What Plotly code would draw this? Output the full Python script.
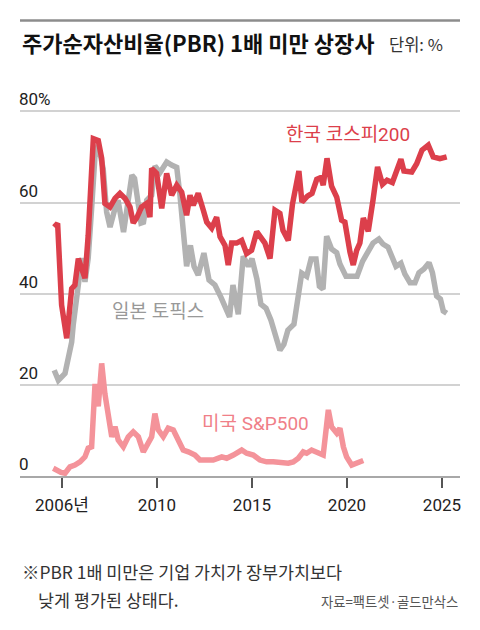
import plotly.graph_objects as go

# --------------------------
# DATA (PBR < 1 share of listed companies, %)
# --------------------------

korea_x = [
    2004.59, 2004.77, 2004.98, 2005.25, 2005.51, 2005.68, 2005.86, 2006.04,
    2006.21, 2006.38, 2006.47, 2006.65, 2006.91, 2007.09, 2007.26, 2007.53,
    2007.79, 2008.05, 2008.32, 2008.58, 2008.75, 2008.93, 2009.19, 2009.46,
    2009.63, 2009.72, 2009.98, 2010.25, 2010.51, 2010.77, 2011.04, 2011.30,
    2011.56, 2011.74, 2011.91, 2012.17, 2012.44, 2012.62, 2012.88, 2013.14,
    2013.32, 2013.58, 2013.75, 2013.93, 2014.19, 2014.46, 2014.72, 2014.98,
    2015.25, 2015.51, 2015.68, 2015.95, 2016.21, 2016.47, 2016.63, 2016.91,
    2017.13, 2017.47, 2017.63, 2017.92, 2018.16, 2018.41, 2018.63, 2018.75,
    2018.95, 2019.19, 2019.46, 2019.72, 2019.89, 2020.16, 2020.33, 2020.51,
    2020.68, 2020.86, 2021.12, 2021.37, 2021.61, 2021.87, 2022.11, 2022.39,
    2022.84, 2023.00, 2023.41, 2023.67, 2023.95, 2024.28, 2024.54, 2024.89,
    2025.25,
]
korea_y = [
    54.6, 55.4, 37.5, 30.2, 41.1, 41.9, 47.7, 45.6,
    43.4, 52.8, 58.7, 74.0, 73.6, 69.7, 59.8, 59.0,
    60.9, 62.0, 60.9, 59.0, 55.5, 56.6, 59.0, 59.8,
    56.8, 67.5, 66.4, 58.7, 66.4, 61.6, 63.8, 62.3,
    57.2, 61.6, 59.4, 62.0, 58.3, 55.7, 54.4, 56.8,
    52.5, 50.6, 46.3, 51.1, 51.1, 51.7, 48.8, 49.5,
    53.6, 52.1, 51.1, 47.7, 58.3, 57.6, 53.9, 51.7,
    59.6, 66.9, 60.1, 61.4, 62.0, 65.1, 65.5, 63.8,
    69.7, 63.6, 61.2, 56.1, 55.7, 49.1, 46.3, 49.5,
    51.1, 56.6, 53.7, 60.5, 67.8, 64.0, 64.9, 64.4,
    69.5, 66.9, 66.7, 68.5, 71.5, 72.6, 70.0, 69.6,
    70.0,
]

japan_x = [
    2004.59, 2004.81, 2005.16, 2005.33, 2005.51, 2005.59, 2005.77, 2005.95,
    2006.04, 2006.21, 2006.38, 2006.56, 2006.74, 2006.91, 2007.17, 2007.35,
    2007.53, 2007.79, 2007.95, 2008.24, 2008.42, 2008.68, 2008.82, 2008.95,
    2009.16, 2009.29, 2009.46, 2009.72, 2009.89, 2010.16, 2010.51, 2010.77,
    2011.04, 2011.21, 2011.38, 2011.56, 2011.76, 2011.95, 2012.17, 2012.47,
    2012.74, 2013.05, 2013.37, 2013.67, 2013.82, 2014.00, 2014.28, 2014.54,
    2014.81, 2015.00, 2015.26, 2015.47, 2015.74, 2016.00, 2016.30, 2016.47,
    2016.68, 2016.89, 2017.21, 2017.44, 2017.62, 2017.88, 2018.11, 2018.37,
    2018.55, 2018.74, 2018.93, 2019.19, 2019.46, 2019.63, 2019.95, 2020.21,
    2020.53, 2020.82, 2021.11, 2021.37, 2021.68, 2021.89, 2022.16, 2022.37,
    2022.58, 2022.84, 2023.05, 2023.32, 2023.58, 2023.79, 2024.05, 2024.32,
    2024.50, 2024.72, 2024.92, 2025.07, 2025.25,
]
japan_y = [
    23.2, 21.0, 22.5, 25.9, 29.4, 33.1, 39.7, 46.3,
    47.8, 42.6, 47.8, 58.7, 70.4, 72.6, 67.4, 57.9,
    54.6, 58.7, 60.5, 53.5, 59.4, 66.0, 65.3, 60.9,
    55.5, 55.7, 60.5, 61.6, 68.0, 66.6, 68.9, 68.2,
    67.7, 61.6, 53.0, 46.0, 50.6, 46.0, 44.1, 48.9,
    43.0, 41.9, 39.2, 36.4, 34.9, 41.9, 35.5, 48.2,
    46.0, 47.7, 43.2, 37.7, 36.8, 34.2, 30.5, 27.6,
    28.9, 32.0, 33.3, 39.5, 44.5, 43.8, 47.6, 47.6,
    41.6, 41.0, 52.6, 49.8, 49.0, 46.5, 43.8, 43.8,
    43.8, 47.1, 49.3, 51.1, 52.0, 50.9, 50.2, 48.2,
    46.0, 46.7, 44.3, 42.4, 42.4, 44.6, 45.4, 46.8,
    44.6, 39.5, 38.8, 36.2, 35.7,
]

us_x = [
    2004.54, 2004.74, 2004.95, 2005.16, 2005.42, 2005.68, 2005.95, 2006.21,
    2006.38, 2006.56, 2006.74, 2006.91, 2007.09, 2007.26, 2007.44, 2007.62,
    2007.79, 2007.96, 2008.23, 2008.49, 2008.75, 2009.02, 2009.28, 2009.54,
    2009.72, 2009.89, 2010.07, 2010.33, 2010.59, 2010.86, 2011.12, 2011.38,
    2011.65, 2012.00, 2012.26, 2012.62, 2012.96, 2013.41, 2013.67, 2014.02,
    2014.46, 2014.72, 2015.07, 2015.42, 2015.77, 2016.12, 2016.56, 2016.91,
    2017.17, 2017.44, 2017.70, 2017.88, 2018.14, 2018.41, 2018.75, 2019.02,
    2019.19, 2019.46, 2019.63, 2019.81, 2019.98, 2020.25, 2020.51, 2020.86,
]
us_y = [
    1.7, 1.1, 0.8, 0.6, 2.0, 2.4, 3.1, 4.2,
    6.1, 6.4, 20.2, 15.3, 24.7, 18.0, 13.0, 8.6,
    10.8, 7.9, 6.4, 8.6, 9.7, 8.6, 5.3, 7.2,
    8.6, 13.7, 10.1, 8.6, 10.5, 10.1, 7.9, 5.7,
    5.3, 4.6, 3.5, 3.5, 3.5, 4.2, 3.9, 4.6,
    5.7, 5.0, 4.6, 3.5, 3.1, 3.1, 2.8, 2.8,
    3.1, 3.9, 5.3, 5.0, 5.7, 5.3, 4.6, 14.5,
    10.8, 9.4, 10.5, 6.4, 4.2, 2.4, 2.8, 3.4,
]

y_ticks = [0, 20, 40, 60, 80]
y_tick_labels = ["0", "20", "40", "60", "80%"]
x_ticks = [2005, 2010, 2015, 2020, 2025]
x_tick_labels = ["2006년", "2010", "2015", "2020", "2025"]

RED = "#dc3f4b"
GRAY = "#b2b2b2"
PINK = "#f4939a"

NUM = "Roboto, Noto Sans CJK KR, sans-serif"
KR = "Noto Sans CJK KR, sans-serif"

fig = go.Figure()

# pink and gray first so the red line sits on top
fig.add_trace(go.Scatter(x=us_x, y=us_y, mode="lines",
                         line=dict(color=PINK, width=5.5)))
fig.add_trace(go.Scatter(x=japan_x, y=japan_y, mode="lines",
                         line=dict(color=GRAY, width=5.5)))
fig.add_trace(go.Scatter(x=korea_x, y=korea_y, mode="lines",
                         line=dict(color=RED, width=5.5)))

# page body has an 8px margin, so the figure is 8px smaller each way
fig.update_layout(
    width=472,
    height=622,
    showlegend=False,
    paper_bgcolor="white",
    plot_bgcolor="white",
    margin=dict(l=12, r=20, t=75.6, b=154, pad=0),
    font=dict(family=NUM, size=17, color="#222"),
)

fig.update_xaxes(
    range=[2002.79, 2025.95],
    tickvals=x_ticks,
    ticktext=x_tick_labels,
    showgrid=False,
    zeroline=False,
    showline=True,
    linecolor="#a8a8a8",
    linewidth=1.5,
    ticks="outside",
    ticklen=10,
    tickwidth=1.5,
    tickcolor="#555",
    ticklabelstandoff=3,
    tickfont=dict(family=NUM, size=17, color="#222"),
)

fig.update_yaxes(
    range=[0, 86],
    tickvals=y_ticks,
    ticktext=y_tick_labels,
    showgrid=True,
    gridcolor="#d2d2d2",
    gridwidth=1.5,
    zeroline=False,
    ticks="",
    ticklabelposition="inside top",
    ticklabelstandoff=-4,
    tickfont=dict(family=NUM, size=17, color="#222"),
)

# --------------------------
# TEXT
# --------------------------

fig.add_shape(type="line", xref="paper", yref="paper",
              x0=0, x1=1, y0=1.1621, y1=1.1621,
              line=dict(color="#8c8c8c", width=2.5))

fig.add_annotation(text="<b>주가순자산비율(PBR) 1배 미만 상장사</b>",
                   xref="paper", yref="paper", x=0, y=1.107,
                   xanchor="left", yanchor="middle", showarrow=False,
                   font=dict(family=KR, size=22, color="#111"))
fig.add_annotation(text="단위: %",
                   xref="paper", yref="paper", x=0.833, y=1.102,
                   xanchor="left", yanchor="middle", showarrow=False,
                   font=dict(family=KR, size=16.5, color="#333"))

fig.add_annotation(text="한국 코스피200", x=2020.03, y=74.9,
                   showarrow=False, font=dict(family=NUM, size=19, color=RED))
fig.add_annotation(text="일본 토픽스", x=2010.03, y=36.0,
                   showarrow=False, font=dict(family=NUM, size=19, color="#999"))
fig.add_annotation(text="미국 S&P500", x=2015.18, y=11.6,
                   showarrow=False, font=dict(family=NUM, size=19, color="#f07f88"))

fig.add_annotation(text="※PBR 1배 미만은 기업 가치가 장부가치보다",
                   xref="paper", yref="paper", x=0, y=-0.244,
                   xanchor="left", yanchor="middle", showarrow=False,
                   font=dict(family=KR, size=17.4, color="#333"))
fig.add_annotation(text="낮게 평가된 상태다.",
                   xref="paper", yref="paper", x=0.036, y=-0.314,
                   xanchor="left", yanchor="middle", showarrow=False,
                   font=dict(family=KR, size=17.4, color="#333"))
fig.add_annotation(text="자료=팩트셋·골드만삭스",
                   xref="paper", yref="paper", x=1, y=-0.32,
                   xanchor="right", yanchor="middle", showarrow=False,
                   font=dict(family=KR, size=13.3, color="#555"))

fig.write_html("out.html")
